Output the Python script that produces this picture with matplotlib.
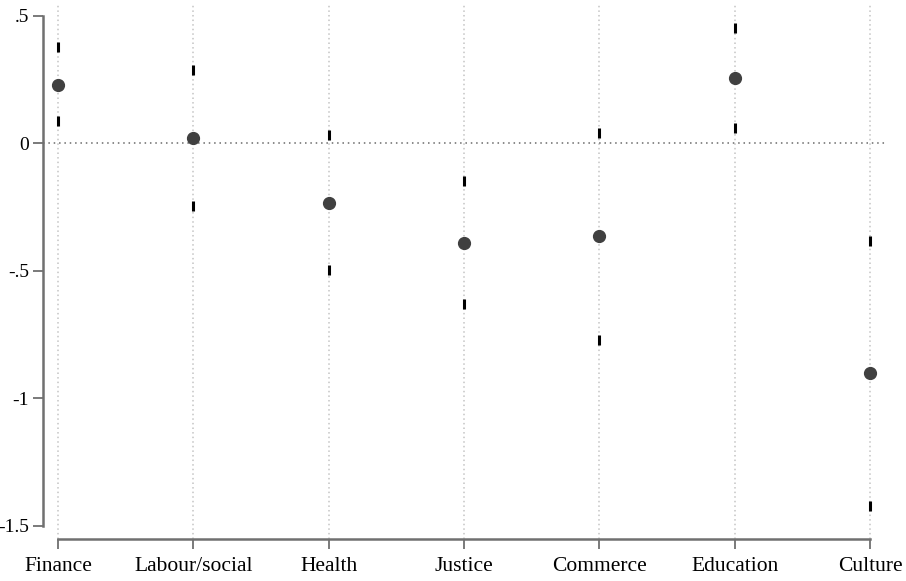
import matplotlib
matplotlib.use("Agg")
import matplotlib.pyplot as plt

# Coefficients with confidence bounds
categories = ["Finance", "Labour/social", "Health", "Justice", "Commerce", "Education", "Culture"]
estimate = [0.231, 0.022, -0.233, -0.390, -0.363, 0.255, -0.900]
upper = [0.377, 0.287, 0.033, -0.149, 0.043, 0.451, -0.381]
lower = [0.087, -0.246, -0.497, -0.630, -0.771, 0.059, -1.421]
yticks = [0.5, 0, -0.5, -1, -1.5]
ytick_labels = [".5", "0", "-.5", "-1", "-1.5"]

plt.rcParams["font.family"] = ["Liberation Serif", "DejaVu Serif"]

fig = plt.figure(figsize=(9.06, 5.81), dpi=100)
ax = fig.add_axes([43 / 906, 1 - 539 / 581, (885 - 43) / 906, (539 - 4) / 581])

x = list(range(len(categories)))

# vertical dotted gridlines and zero reference line
for xi in x:
    ax.axvline(xi, color="#c4c4c4", linestyle=(0, (1, 2)), linewidth=1.1, zorder=0)
ax.axhline(0, color="#6a6a6a", linestyle=(0, (1, 2.5)), linewidth=1.1, zorder=1)

ax.plot(x, upper, linestyle="none", marker="|", markersize=7, markeredgewidth=2.2,
        color="black", zorder=3)
ax.plot(x, lower, linestyle="none", marker="|", markersize=7, markeredgewidth=2.2,
        color="black", zorder=3)
ax.plot(x, estimate, linestyle="none", marker="o", markersize=8.5,
        color="#404040", zorder=4)

ax.set_xlim(-0.111, 6.111)
ax.set_ylim(-1.551, 0.547)

ax.set_xticks(x)
ax.set_xticklabels(categories, fontsize=15.5)
ax.set_yticks(yticks)
ax.set_yticklabels(ytick_labels, fontsize=14)

for side in ["top", "right"]:
    ax.spines[side].set_visible(False)
for side in ["left", "bottom"]:
    ax.spines[side].set_color("#707070")
    ax.spines[side].set_linewidth(1.8)
ax.spines["left"].set_bounds(-1.5, 0.5)
ax.spines["bottom"].set_bounds(0, 6)

ax.tick_params(axis="both", colors="#707070", width=1.3, length=7, labelcolor="black")
ax.tick_params(axis="x", pad=6)
ax.tick_params(axis="y", pad=3)

fig.savefig("out.png", dpi=100)
